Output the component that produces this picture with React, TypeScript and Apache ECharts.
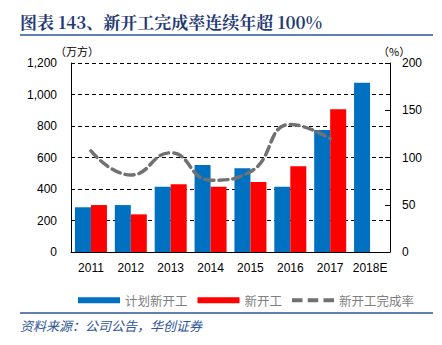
import React, { useEffect, useRef } from "react";
import * as echarts from "echarts";

const categories = ["2011", "2012", "2013", "2014", "2015", "2016", "2017", "2018E"];
const planned = [284, 298, 415, 552, 531, 415, 775, 1075];
const started = [298, 239, 430, 415, 444, 544, 906, null];
const completionRate = [107, 81.5, 105, 76, 85, 135, 120, null];

export default function App() {
  const ref = useRef<HTMLDivElement>(null);
  useEffect(() => {
    document.body.style.margin = "0";
    const chart = echarts.init(ref.current!, null, { renderer: "svg" });
    const cjk = "'Noto Sans CJK SC', sans-serif";
    const num = "'Liberation Sans', Arial, sans-serif";
    const dashIcon = "path://M0,0h10v4h-10z M15,0h10v4h-10z M30,0h10v4h-10z";
    chart.setOption({
      animation: false,
      backgroundColor: "#fff",
      grid: { left: 71, right: 52, top: 63, bottom: 93 },
      legend: {
        left: 73,
        top: 289,
        itemGap: 10,
        itemWidth: 42,
        itemHeight: 6,
        textStyle: { fontFamily: cjk, fontSize: 12.5, color: "#7f7f7f" },
        data: [
          { name: "计划新开工", icon: "rect" },
          { name: "新开工", icon: "rect" },
          { name: "新开工完成率", icon: dashIcon, itemStyle: { color: "#717171" } },
        ],
      },
      xAxis: {
        type: "category",
        data: categories,
        axisLine: { lineStyle: { color: "#000", width: 1 } },
        axisTick: { show: false },
        axisLabel: { fontFamily: num, fontSize: 12, color: "#000", margin: 10, interval: 0 },
      },
      yAxis: [
        {
          type: "value",
          min: 0,
          max: 1200,
          interval: 200,
          axisLine: { show: true, lineStyle: { color: "#000" } },
          axisTick: { show: false },
          axisLabel: {
            fontFamily: num,
            fontSize: 12,
            color: "#000",
            margin: 14,
            formatter: (v: number) => v.toLocaleString("en-US"),
          },
          splitLine: { lineStyle: { color: "#000", type: [4, 3], width: 1 } },
        },
        {
          type: "value",
          min: 0,
          max: 200,
          interval: 50,
          position: "right",
          axisLine: { show: true, lineStyle: { color: "#000" } },
          axisTick: { show: true, inside: true, length: 5, lineStyle: { color: "#000" } },
          axisLabel: { fontFamily: num, fontSize: 12, color: "#000", margin: 12 },
          splitLine: { show: false },
        },
      ],
      series: [
        {
          name: "计划新开工",
          type: "bar",
          data: planned,
          barWidth: 16,
          barGap: "0%",
          itemStyle: { color: "#0070C0" },
        },
        {
          name: "新开工",
          type: "bar",
          data: started,
          barWidth: 16,
          itemStyle: { color: "#FF0000" },
        },
        {
          name: "新开工完成率",
          type: "line",
          yAxisIndex: 1,
          data: completionRate,
          smooth: 0.5,
          symbol: "none",
          lineStyle: { color: "#717171", width: 3.5, type: [9, 5], cap: "round" },
          itemStyle: { color: "#717171" },
        },
      ],
      graphic: [
        {
          type: "text",
          left: 20,
          top: 13,
          style: {
            text: "图表 143、新开工完成率连续年超 100%",
            font: "bold 17px 'Noto Serif CJK SC', 'Noto Sans CJK SC', serif",
            fill: "#1F3A75",
          },
        },
        {
          type: "line",
          shape: { x1: 20, y1: 35, x2: 433, y2: 35 },
          style: { stroke: "#2F5597", lineWidth: 1.5 },
        },
        {
          type: "text",
          left: 55,
          top: 45,
          style: { text: "（万方）", font: "11px 'Noto Sans CJK SC', sans-serif", fill: "#000" },
        },
        {
          type: "text",
          left: 378,
          top: 45,
          style: { text: "（%）", font: "11px 'Noto Sans CJK SC', sans-serif", fill: "#000" },
        },
        {
          type: "line",
          shape: { x1: 20, y1: 313, x2: 433, y2: 313 },
          style: { stroke: "#2F5597", lineWidth: 1.5 },
        },
        {
          type: "text",
          left: 20,
          top: 319,
          style: {
            text: "资料来源：公司公告，华创证券",
            font: "italic 13px 'Noto Sans CJK SC', sans-serif",
            fill: "#2F5597",
          },
        },
      ],
    });
    return () => chart.dispose();
  }, []);
  return <div ref={ref} style={{ width: 442, height: 345 }} />;
}
